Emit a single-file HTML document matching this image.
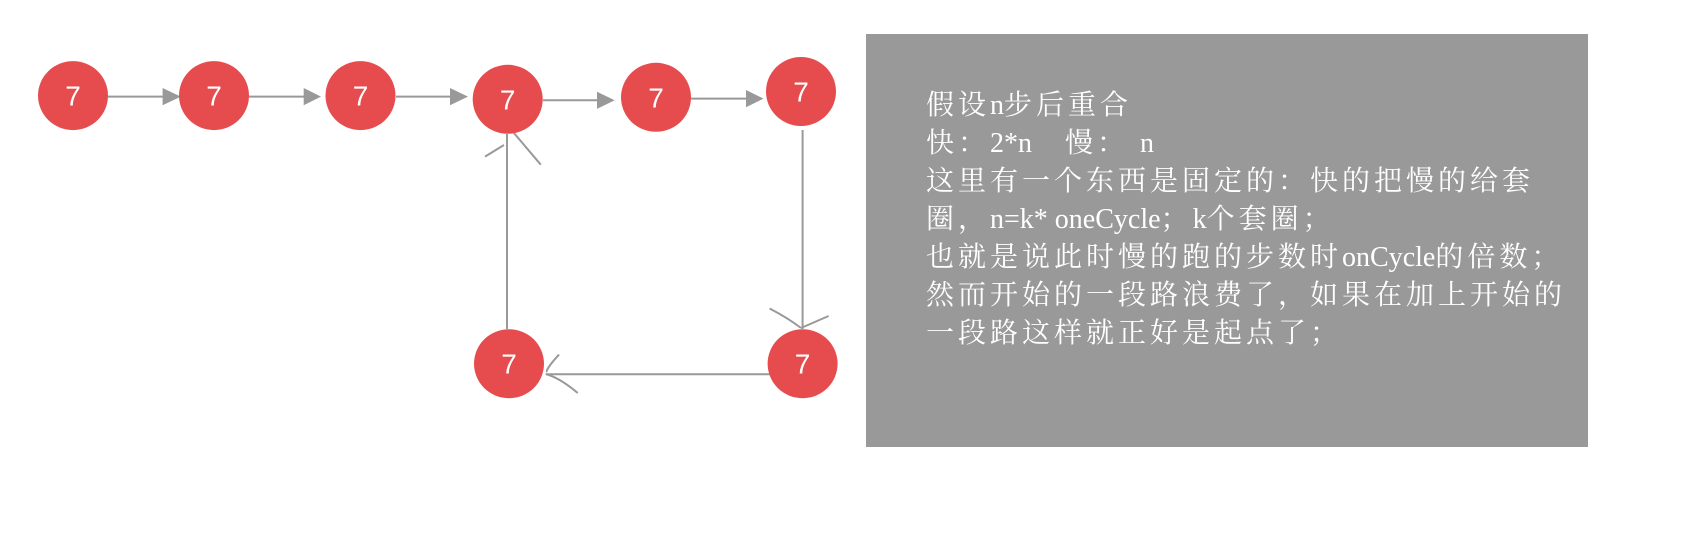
<!DOCTYPE html>
<html><head><meta charset="utf-8"><style>
html,body{margin:0;padding:0;background:#fff;}
body{width:1682px;height:536px;position:relative;overflow:hidden;}
.box{position:absolute;left:866px;top:34px;width:722px;height:413px;background:#999;}
.txt{position:absolute;left:926px;top:87px;color:#fff;font-family:"Liberation Serif","Noto Serif CJK SC",serif;font-size:28px;line-height:38px;letter-spacing:4px;white-space:pre;}
.l{letter-spacing:0;font-family:"Liberation Serif",serif;}
svg{position:absolute;left:0;top:0;}
</style></head><body>
<div class="box"></div>
<div class="txt">假设<span class="l">n</span>步后重合
快：<span class="l">2*n</span>   慢： <span class="l">n</span>
这里有一个东西是固定的：快的把慢的给套
圈，<span class="l">n=k* oneCycle</span>；<span class="l">k</span>个套圈；
也就是说此时慢的跑的步数时<span class="l">onCycle</span>的倍数；
然而开始的一段路浪费了，如果在加上开始的
一段路这样就正好是起点了；</div>
<svg width="1682" height="536" viewBox="0 0 1682 536">
<g stroke="#999" stroke-width="2" fill="none">
<line x1="108" y1="96.6" x2="165" y2="96.6"/>
<line x1="249" y1="96.6" x2="306" y2="96.6"/>
<line x1="396" y1="96.6" x2="452" y2="96.6"/>
<line x1="543" y1="100.3" x2="599" y2="100.3"/>
<line x1="691" y1="98.6" x2="748" y2="98.6"/>
<line x1="802.6" y1="130" x2="802.6" y2="329"/>
<path d="M769.6 308.5 Q788 318 801 328 M828.6 316 L801 328"/>
<line x1="769.6" y1="374.2" x2="545.8" y2="374.2"/>
<path d="M559 354.6 Q545 370 547 372 M577.7 393 Q560 378 545.8 374"/>
<line x1="507" y1="329" x2="507" y2="134"/>
<path d="M485 156.6 L504 145 M540.8 164.7 L513.8 132.9"/>
</g>
<g fill="#999">
<polygon points="162.6,88 180.8,96.6 162.6,105.2"/>
<polygon points="303.7,88 321,96.6 303.7,105.2"/>
<polygon points="450,88 468,96.6 450,105.2"/>
<polygon points="597,91.7 614.7,100.3 597,108.9"/>
<polygon points="746,90 763.5,98.6 746,107.2"/>
</g>
<g fill="#e64c4e">
<ellipse cx="73" cy="95.6" rx="35" ry="34.5"/>
<ellipse cx="214" cy="95.6" rx="35" ry="34.5"/>
<ellipse cx="360.5" cy="95.6" rx="35" ry="34.5"/>
<ellipse cx="507.7" cy="99.3" rx="35" ry="34.5"/>
<ellipse cx="656" cy="97.3" rx="35" ry="34.5"/>
<ellipse cx="801" cy="91.5" rx="35" ry="34.5"/>
<ellipse cx="509" cy="363.7" rx="35" ry="34.5"/>
<ellipse cx="802.6" cy="363.7" rx="35" ry="34.5"/>
</g>
<g fill="#fff" font-family="Liberation Sans, sans-serif" font-size="28" text-anchor="middle">
<text x="73" y="105.6">7</text>
<text x="214" y="105.6">7</text>
<text x="360.5" y="105.6">7</text>
<text x="507.7" y="109.3">7</text>
<text x="656" y="107.3">7</text>
<text x="801" y="101.5">7</text>
<text x="509" y="373.7">7</text>
<text x="802.6" y="373.7">7</text>
</g>
</svg>
</body></html>
